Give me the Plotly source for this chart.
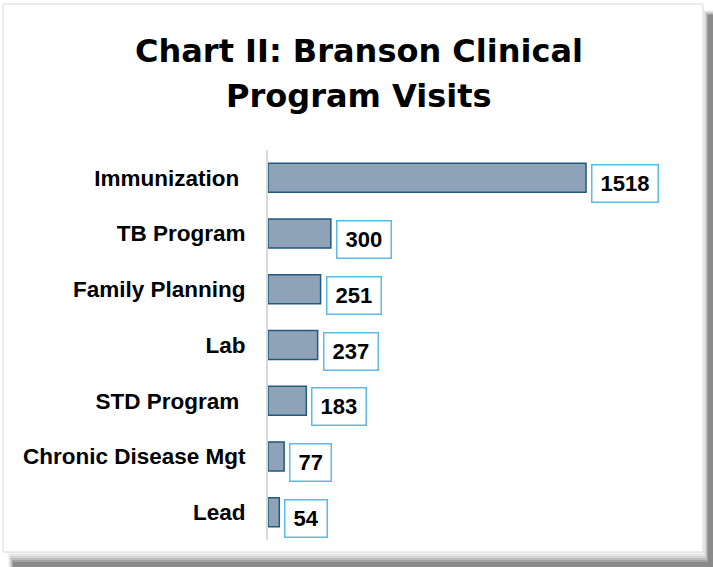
import plotly.graph_objects as go

categories = ["Immunization", "TB Program", "Family Planning", "Lab", "STD Program", "Chronic Disease Mgt", "Lead"]
visits = [1518, 300, 251, 237, 183, 77, 54]
tick_labels = ["Immunization\u00a0", "TB Program", "Family Planning", "Lab", "STD Program\u00a0", "Chronic Disease Mgt", "Lead"]

W, H = 713, 567
L, R, T, B = 268, 26, 150, 27
PW, PH = W - L - R, H - T - B

def px(x):
    return (x - L) / PW

def py(y):
    return (H - B - y) / PH

label_font = "'Liberation Sans', Arial, sans-serif"
title_font = "'DejaVu Sans', sans-serif"

fig = go.Figure(go.Bar(
    x=visits, y=categories, orientation="h",
    marker=dict(color="#8EA3B7", line=dict(color="#22597C", width=1.5)),
    width=0.52, hoverinfo="skip",
))

annotations = []
for c, v in zip(categories, visits):
    annotations.append(dict(
        x=v, y=c, xref="x", yref="y", text=f"<b>{v}</b>", showarrow=False,
        xanchor="left", yanchor="middle", xshift=5, yshift=-6, height=20,
        font=dict(family=label_font, size=22, color="#000000"),
        bgcolor="#FFFFFF", bordercolor="#5DB9E8", borderwidth=1.5, borderpad=8,
    ))

annotations.append(dict(x=px(359), y=py(51), xref="paper", yref="paper", text="<b>Chart II: Branson Clinical</b>",
                        showarrow=False, xanchor="center", yanchor="middle",
                        font=dict(family=title_font, size=32, color="#000000")))
annotations.append(dict(x=px(359), y=py(96), xref="paper", yref="paper", text="<b>Program Visits</b>",
                        showarrow=False, xanchor="center", yanchor="middle",
                        font=dict(family=title_font, size=32, color="#000000")))

shapes = []
grays = ["#f4f4f4", "#e6e6e6", "#d4d4d4", "#bdbdbd", "#a3a3a3", "#8a8a8a"]
for i, g in enumerate(grays):
    shapes.append(dict(type="rect", xref="paper", yref="paper", layer="below",
                       x0=px(8 + i), x1=px(713), y0=py(552 + 2 * i), y1=py(567), fillcolor=g, line=dict(width=0)))
    shapes.append(dict(type="rect", xref="paper", yref="paper", layer="below",
                       x0=px(703 + i), x1=px(713), y0=py(10 + i), y1=py(567), fillcolor=g, line=dict(width=0)))
shapes.append(dict(type="rect", xref="paper", yref="paper", layer="below",
                   x0=px(3), x1=px(703), y0=py(4), y1=py(552), fillcolor="#FFFFFF",
                   line=dict(color="#D9D9D9", width=1)))

fig.update_layout(
    width=W, height=H, margin=dict(l=L, r=R, t=T, b=B),
    paper_bgcolor="#FFFFFF", plot_bgcolor="rgba(0,0,0,0)",
    showlegend=False, annotations=annotations, shapes=shapes,
    xaxis=dict(range=[0, 2000], visible=False, fixedrange=True),
    yaxis=dict(categoryorder="array", categoryarray=categories[::-1], range=[-0.5, 6.5],
               tickmode="array", tickvals=categories, ticktext=[f"<b>{t}</b>" for t in tick_labels],
               tickfont=dict(family=label_font, size=22.5, color="#000000"),
               showline=True, linecolor="#D9D9D9", linewidth=2, ticks="", ticklabelstandoff=16,
               showgrid=False, zeroline=False, fixedrange=True),
)

fig.write_html("out.html", config={"displayModeBar": False},
               post_script="document.body.style.margin='0';document.body.style.overflow='hidden';")
